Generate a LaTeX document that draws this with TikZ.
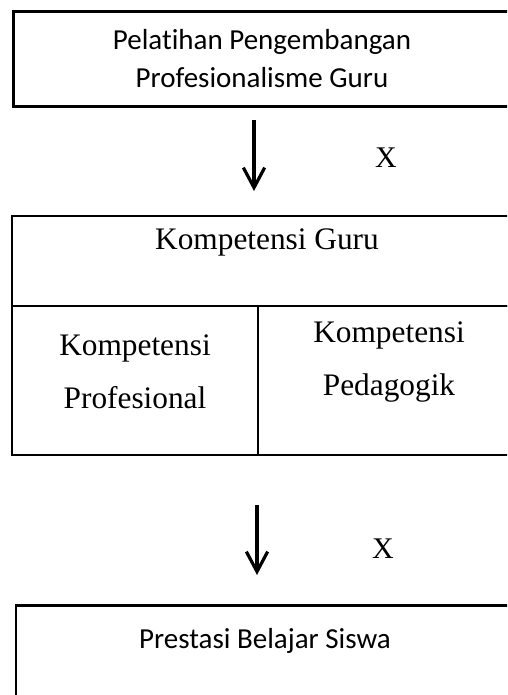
\documentclass[tikz,border=0pt]{standalone}
\usepackage{fontspec}
\setmainfont{Liberation Serif}
\newfontfamily\calibri[Ligatures={NoCommon,NoRare,NoContextual}]{Carlito}
\usepackage{tikz}
\usetikzlibrary{arrows.meta}

\begin{document}
\begin{tikzpicture}[x=0.75pt, y=-0.75pt,
  kotak/.style={draw, rectangle, inner sep=0pt, line width=1.5pt},
  teksA/.style={anchor=base, inner sep=0pt, font=\calibri\fontsize{21.75pt}{26pt}\selectfont},
  teksB/.style={anchor=base, inner sep=0pt, font=\fontsize{23.5pt}{28pt}\selectfont},
  panah/.style={line width=2.4pt, -{Straight Barb[length=15pt, width=16pt, line width=2.4pt]}}]
\useasboundingbox (0,0) rectangle (507,695);
\clip (0,0) rectangle (507,695);
\fill[white] (0,0) rectangle (507,695);
% kotak atas
\node[kotak, line width=2.25pt, minimum width=380pt, minimum height=71.6pt] (pelatihan) at (266.7,59.05) {};
\node[teksA] (t1a) at (262,50) {Pelatihan Pengembangan};
\node[teksA] (t1b) at (262,88) {Profesionalisme Guru};
% kotak kompetensi
\node[kotak, minimum width=380pt, minimum height=67.5pt] (guru) at (265.3,261) {};
\node[kotak, minimum width=184.5pt, minimum height=111.75pt] (profesional) at (135,380.5) {};
\node[kotak, minimum width=200pt, minimum height=111.75pt] (pedagogik) at (391.3,380.5) {};
\node[teksB] (t2) at (267,249) {Kompetensi Guru};
\node[teksB] (t3a) at (135,355) {Kompetensi};
\node[teksB] (t3b) at (135,408) {Profesional};
\node[teksB] (t4a) at (389,342) {Kompetensi};
\node[teksB] (t4b) at (389,395) {Pedagogik};
% kotak bawah
\node[kotak, line width=1.9pt, minimum width=380pt, minimum height=100pt] (prestasi) at (269.3,672.2) {};
\node[teksA] (t5) at (265,648) {Prestasi Belajar Siswa};
% panah
\coordinate (p1a) at (254,120);
\coordinate (p1b) at (254,191);
\coordinate (p2a) at (257,505);
\coordinate (p2b) at (257,575);
\draw[panah] (p1a) -- (p1b);
\draw[panah] (p2a) -- (p2b);
\node[teksB, font=\fontsize{22.5pt}{26pt}\selectfont] (x1) at (386,168) {X};
\node[teksB, font=\fontsize{22.5pt}{26pt}\selectfont] (x2) at (383,558) {X};
\end{tikzpicture}
\end{document}
